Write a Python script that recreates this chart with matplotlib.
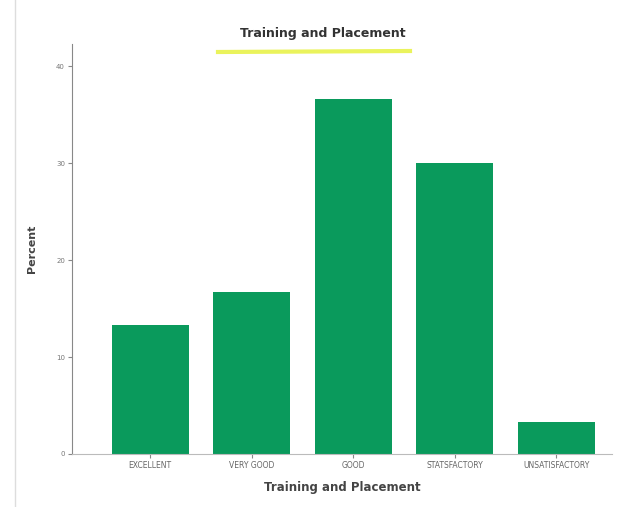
import matplotlib.pyplot as plt
import numpy as np

categories = ['EXCELLENT', 'VERY GOOD', 'GOOD', 'STATSFACTORY', 'UNSATISFACTORY']
percent = [13.33, 16.67, 36.67, 30.0, 3.33]
yticks = [0, 10, 20, 30, 40]

fig = plt.figure(figsize=(6.26, 5.07), dpi=100)
ax = fig.add_axes([72 / 626, 1 - 454 / 507, 540 / 626, 410 / 507])

x = np.arange(len(categories))
ax.bar(x, percent, width=0.76, color='#0a9a5c', zorder=2)

ax.set_xlim(-0.77, 4.55)
ax.set_ylim(0, 42.3)
ax.set_yticks(yticks)
ax.set_yticklabels([str(t) for t in yticks], fontsize=5, color='#777777')
ax.set_xticks(x)
ax.set_xticklabels(categories, fontsize=5.5, color='#666666')
ax.tick_params(axis='both', length=3, width=0.8, color='#888888', pad=2)

for s in ['top', 'right']:
    ax.spines[s].set_visible(False)
ax.spines['left'].set_color('#888888')
ax.spines['bottom'].set_color('#bbbbbb')

ax.set_ylabel('Percent', fontsize=8, fontweight='bold', color='#444444', labelpad=14)
ax.set_xlabel('Training and Placement', fontsize=8.5, fontweight='bold', color='#444444', labelpad=8)

fig.text(323 / 626, 1 - 33 / 507, 'Training and Placement', ha='center', va='center',
         fontsize=9, fontweight='bold', color='#333333')
# yellow highlighter mark under the title
fig.add_artist(plt.Line2D([218 / 626, 410 / 626], [1 - 52 / 507, 1 - 51 / 507],
                          color='#e8f24a', lw=3, alpha=0.9))
# faint frame line on the left edge
fig.add_artist(plt.Line2D([15 / 626, 15 / 626], [0, 1], color='#dddddd', lw=1))

fig.savefig('out.png', dpi=100)
